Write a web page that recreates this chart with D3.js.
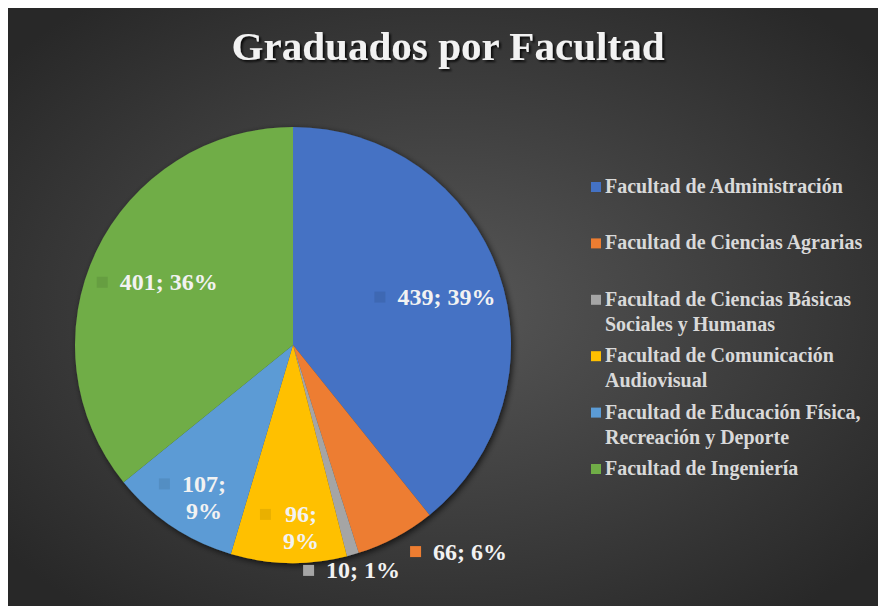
<!DOCTYPE html>
<html>
<head>
<meta charset="utf-8">
<script src="https://cdn.jsdelivr.net/npm/d3@7"></script>
<style>
  body { margin: 0; background: #fff; }
  text { font-family: 'Liberation Serif', 'Times New Roman', serif; font-weight: bold; }
</style>
</head>
<body>
<svg id="chart" width="878" height="606"></svg>
<script>
const categories = [
  'Facultad de Administración',
  'Facultad de Ciencias Agrarias',
  'Facultad de Ciencias Básicas Sociales y Humanas',
  'Facultad de Comunicación Audiovisual',
  'Facultad de Educación Física, Recreación y Deporte',
  'Facultad de Ingeniería'
];
const values = [439, 66, 10, 96, 107, 401];
// percentages as printed on the chart
const percents = [39, 6, 1, 9, 9, 36];
const colors = ['#4472c4', '#ed7d31', '#a5a5a5', '#ffc000', '#5b9bd5', '#70ad47'];
const title = 'Graduados por Facultad';

const svg = d3.select('#chart');
const width = +svg.attr('width');
const height = +svg.attr('height');

const defs = svg.append('defs');
const bg = defs.append('radialGradient')
  .attr('id', 'bg')
  .attr('cx', '50%').attr('cy', '50%').attr('r', '65%');
bg.append('stop').attr('offset', '0%').attr('stop-color', '#575757');
bg.append('stop').attr('offset', '100%').attr('stop-color', '#282828');

const pieShadow = defs.append('filter').attr('id', 'pie-shadow')
  .attr('x', '-20%').attr('y', '-20%').attr('width', '140%').attr('height', '140%');
pieShadow.append('feDropShadow')
  .attr('dx', 2).attr('dy', 2).attr('stdDeviation', 3)
  .attr('flood-color', '#000').attr('flood-opacity', 0.7);

const textShadow = defs.append('filter').attr('id', 'text-shadow')
  .attr('x', '-10%').attr('y', '-30%').attr('width', '120%').attr('height', '160%');
textShadow.append('feDropShadow')
  .attr('dx', 2).attr('dy', 2).attr('stdDeviation', 1.2)
  .attr('flood-color', '#000').attr('flood-opacity', 0.8);

svg.append('rect')
  .attr('x', 8).attr('y', 8)
  .attr('width', width - 8).attr('height', height - 8)
  .attr('fill', 'url(#bg)');

// title
svg.append('text')
  .attr('x', 448).attr('y', 60)
  .attr('text-anchor', 'middle')
  .attr('font-size', 41)
  .attr('textLength', 433)
  .attr('lengthAdjust', 'spacing')
  .attr('fill', '#f2f2f2')
  .attr('filter', 'url(#text-shadow)')
  .text(title);

// pie
const cx = 293, cy = 345, R = 218;
const pie = d3.pie().sort(null).value(d => d);
const arcs = pie(values);
const arc = d3.arc().innerRadius(0).outerRadius(R);

const pieG = svg.append('g')
  .attr('transform', `translate(${cx},${cy})`);

pieG.append('g')
  .attr('filter', 'url(#pie-shadow)')
  .selectAll('path')
  .data(arcs)
  .enter().append('path')
    .attr('d', arc)
    .attr('fill', (d, i) => colors[i]);

// data labels
const deg = Math.PI / 180;
const labelSize = 24, lineH = 27, keySize = 11, keyGap = 12;

const labelG = svg.append('g');
arcs.forEach((d, i) => {
  const span = d.endAngle - d.startAngle;
  const mid = (d.startAngle + d.endAngle) / 2;
  const outside = span < 25 * deg;
  const r = outside ? R * 1.08 : (span > 60 * deg ? R * 0.69 : R * 0.83);
  const px = cx + Math.sin(mid) * r;
  const py = cy - Math.cos(mid) * r;
  const lines = (!outside && span < 40 * deg)
    ? [values[i] + ';', percents[i] + '%']
    : [values[i] + '; ' + percents[i] + '%'];

  const g = labelG.append('g');
  const texts = lines.map((s, j) => g.append('text')
    .attr('font-size', labelSize)
    .attr('fill', '#f2f2f2')
    .attr('y', j * lineH)
    .text(s));
  const w = d3.max(texts, t => t.node().getComputedTextLength());
  texts.forEach(t => t.attr('x', (w - t.node().getComputedTextLength()) / 2));
  g.append('rect')
    .attr('x', -(keySize + keyGap)).attr('y', -8 - keySize / 2)
    .attr('width', keySize).attr('height', keySize)
    .attr('fill', d3.color(colors[i]).darker(outside ? 0 : 0.25));

  const blockW = keySize + keyGap + w;
  let left;
  if (outside && Math.abs(Math.sin(mid)) >= 0.3) {
    left = Math.sin(mid) > 0 ? px + 6 : px - 6 - blockW;
  } else {
    left = px - blockW / 2 - (outside ? 6 : 0);
  }
  const top = py - (lines.length - 1) * lineH / 2 + (outside ? 7 : 10);
  g.attr('transform', `translate(${left + keySize + keyGap},${top})`);
});

// legend
const legendX = 591, textX = 605, legendY = 193, slot = 56.4, maxW = 265, legendLineH = 25;
const legend = svg.append('g');
categories.forEach((name, i) => {
  const y = legendY + i * slot;
  legend.append('rect')
    .attr('x', legendX).attr('y', y - 11)
    .attr('width', 10).attr('height', 10)
    .attr('fill', colors[i]);
  const t = legend.append('text')
    .attr('x', textX).attr('y', y)
    .attr('font-size', 20)
    .attr('fill', '#d9d9d9');
  // wrap words to the legend width
  const words = name.split(' ');
  let line = [];
  let tspan = t.append('tspan').attr('x', textX).attr('y', y);
  let lineNo = 0;
  for (const word of words) {
    line.push(word);
    tspan.text(line.join(' '));
    if (tspan.node().getComputedTextLength() > maxW && line.length > 1) {
      line.pop();
      tspan.text(line.join(' '));
      line = [word];
      lineNo++;
      tspan = t.append('tspan').attr('x', textX).attr('y', y + lineNo * legendLineH).text(word);
    }
  }
});
</script>
</body>
</html>
